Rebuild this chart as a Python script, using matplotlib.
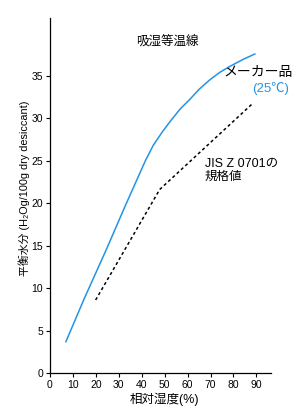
import matplotlib
matplotlib.use("Agg")
import matplotlib.pyplot as plt

plt.rcParams['font.family'] = ['Liberation Sans', 'Noto Sans CJK JP', 'DejaVu Sans']

# Data
maker_rh = [6.8, 15.0, 24.5, 33.0, 41.6, 45.0, 49.0, 52.9, 56.8, 60.9, 65.0, 69.6, 74.0, 78.4, 84.0, 89.6]
maker_w = [3.6, 8.8, 14.5, 19.8, 25.0, 26.8, 28.4, 29.8, 31.1, 32.2, 33.4, 34.5, 35.4, 36.1, 36.9, 37.6]
jis_rh = [19.9, 47.8, 88.6]
jis_w = [8.6, 21.6, 31.8]
xticks = [0, 10, 20, 30, 40, 50, 60, 70, 80, 90]
yticks = [0, 5, 10, 15, 20, 25, 30, 35]

fig = plt.figure(figsize=(3.03, 4.09), dpi=100)
ax = fig.add_axes([0.165, 0.088, 0.729, 0.868])

blue = '#2393e6'
ax.plot(maker_rh, maker_w, color=blue, lw=1.1, solid_capstyle='butt')
ax.plot(jis_rh, jis_w, color='black', lw=1.1, linestyle=(0, (2.0, 1.8)))

ax.set_xlim(0, 96.3)
ax.set_ylim(0, 41.8)
ax.set_xticks(xticks)
ax.set_yticks(yticks)
ax.tick_params(labelsize=7.5, length=3, width=0.8, pad=2)
for s in ['top', 'right']:
    ax.spines[s].set_visible(False)
for s in ['left', 'bottom']:
    ax.spines[s].set_linewidth(0.9)

ax.set_xlabel('相対湿度(%)', fontsize=9, labelpad=2)
ax.xaxis.label.set_x(0.52)
ax.set_ylabel('平衡水分 (H₂Og/100g dry desiccant)', fontsize=7.8, labelpad=1)
ax.yaxis.label.set_y(0.52)

ax.text(0.532, 0.930, '吸湿等温線', transform=ax.transAxes, fontsize=9, ha='center', va='center')
ax.text(1.10, 0.848, 'メーカー品', transform=ax.transAxes, fontsize=10, ha='right', va='center')
ax.text(1.081, 0.803, '(25℃)', transform=ax.transAxes, fontsize=9.5, ha='right', va='center', color=blue)
ax.text(0.70, 0.589, 'JIS Z 0701の', transform=ax.transAxes, fontsize=9, ha='left', va='center')
ax.text(0.70, 0.552, '規格値', transform=ax.transAxes, fontsize=9, ha='left', va='center')

fig.savefig('out.png', dpi=100)
